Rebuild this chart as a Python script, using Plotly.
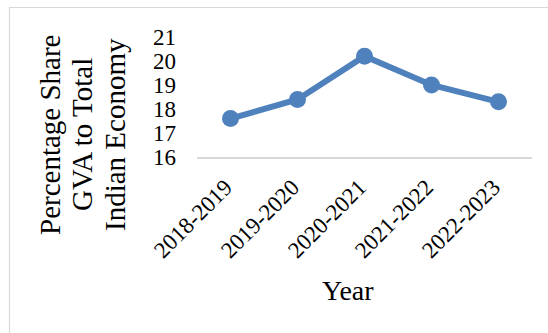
import plotly.graph_objects as go

years = ["2018-2019", "2019-2020", "2020-2021", "2021-2022", "2022-2023"]
share = [17.6, 18.4, 20.2, 19.0, 18.3]
y_ticks = [16, 17, 18, 19, 20, 21]
y_title_lines = ["Percentage Share", "GVA to Total", "Indian Economy"]
x_title = "Year"

FONT = "Liberation Serif, Times New Roman, serif"

fig = go.Figure()
fig.add_trace(go.Scatter(
    x=years, y=share, mode="lines+markers",
    line=dict(color="#4f81bd", width=6),
    marker=dict(color="#4f81bd", size=17),
    showlegend=False, cliponaxis=False,
))

L, R, T, B = 197, 16, 37, 176
W, H = 548, 333
pw, ph = W - L - R, H - T - B

def px_x(x):
    return (x - L) / pw

def px_y(y):
    return (H - B - y) / ph

fig.update_layout(
    width=W, height=H,
    margin=dict(l=L, r=R, t=T, b=B, pad=0),
    paper_bgcolor="white", plot_bgcolor="white",
    font=dict(family=FONT, size=23, color="black"),
    xaxis=dict(
        type="category", range=[-0.5, 4.5], showgrid=False,
        showline=True, linecolor="#d9d9d9", linewidth=1.5,
        ticks="", tickangle=-45, tickfont=dict(size=23),
        ticklabelstandoff=6, ticklabelshift=-5,
    ),
    yaxis=dict(
        range=[16, 21], tickvals=y_ticks, showgrid=False,
        showline=False, zeroline=False, ticks="",
        tickfont=dict(size=23), ticklabelstandoff=20,
    ),
)

for xpix, txt in zip([50, 82, 115], y_title_lines):
    fig.add_annotation(
        text=txt, xref="paper", yref="paper",
        x=px_x(xpix), y=px_y(135), textangle=-90,
        showarrow=False, xanchor="center", yanchor="middle",
        font=dict(family=FONT, size=29, color="black"),
    )

fig.add_annotation(
    text=x_title, xref="paper", yref="paper",
    x=px_x(348), y=px_y(290), showarrow=False,
    xanchor="center", yanchor="middle",
    font=dict(family=FONT, size=28, color="black"),
)

fig.add_shape(
    type="rect", xref="paper", yref="paper",
    x0=px_x(9.5), x1=px_x(560), y0=px_y(345), y1=px_y(7.5),
    line=dict(color="#d9d9d9", width=1.2), fillcolor="rgba(0,0,0,0)",
    layer="below",
)

fig.write_html("out.html")
